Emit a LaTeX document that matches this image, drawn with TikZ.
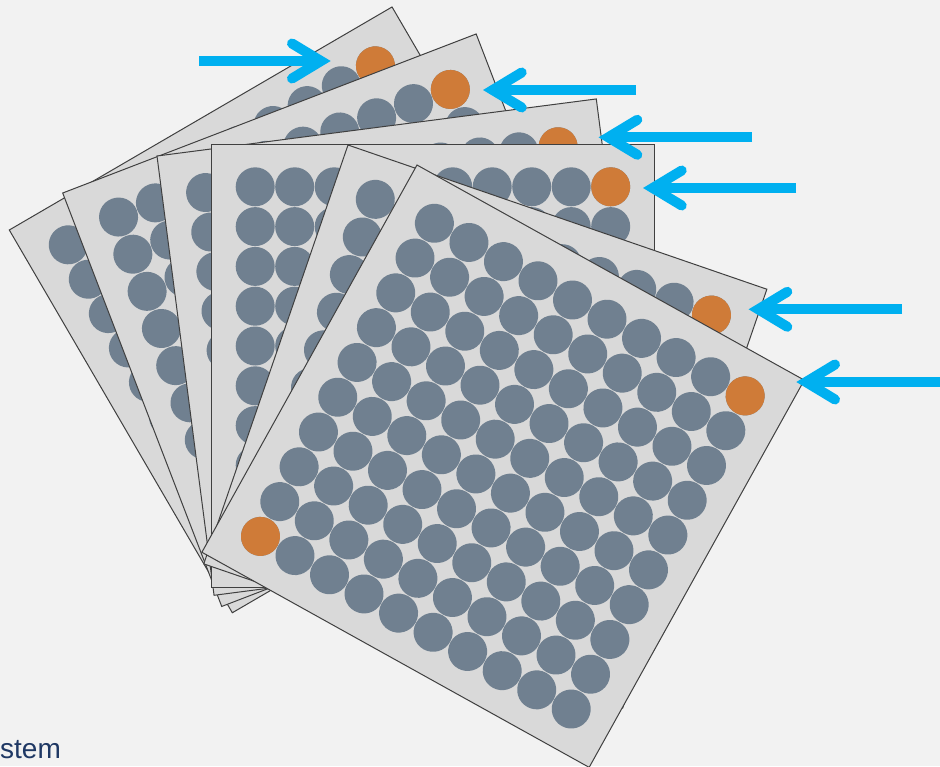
\documentclass[tikz,border=0pt]{standalone}
\usepackage{fontspec}
\setmainfont{Liberation Sans}
\usetikzlibrary{calc}
\definecolor{bgc}{HTML}{F2F2F2}
\definecolor{platefill}{HTML}{D9D9D9}
\definecolor{plateedge}{HTML}{404040}
\definecolor{wellc}{HTML}{708090}
\definecolor{hitc}{HTML}{CF7B38}
\definecolor{arrowc}{HTML}{00B0F0}
\definecolor{textc}{HTML}{1F3864}
\newcommand\drawplate[4]{%
  \begin{scope}[shift={(#1,#2)}, rotate=#3]
    \draw[plate] (0,0) rectangle (443,443);
    \foreach \i in {0,...,9}{\foreach \j in {0,...,9}{%
      \fill[well] (43.5+39.5*\i, 42.5+39.8*\j) circle[radius=19.5pt];}}
    \fill[hit] (399,42.5) circle[radius=19.5pt];
    #4
  \end{scope}}
\begin{document}
\begin{tikzpicture}[x=1pt,y=-1pt,
  plate/.style={fill=platefill, draw=plateedge, line width=1pt, line join=miter},
  well/.style={fill=wellc},
  hit/.style={fill=hitc},
  shaft/.style={draw=arrowc, line width=10pt, line cap=butt},
  barb/.style={draw=arrowc, line width=10pt, line cap=round, line join=miter},
  label/.style={text=textc, font=\fontsize{28}{33}\selectfont, inner sep=0pt}]
  \useasboundingbox (0,0) rectangle (940,766);
  \fill[bgc] (0,0) rectangle (940,766);
  \clip (0,0) rectangle (940,766);
  % plates, back to front
  \drawplate{9.3}{230}{30.23}{}
  \drawplate{62.7}{193}{21.04}{}
  \drawplate{157}{156}{7.40}{}
  \drawplate{211.7}{144.3}{0}{}
  \drawplate{348}{145}{-19}{}
  \drawplate{417}{165}{-29.05}{\fill[hit] (43.5,400.7) circle[radius=19.5pt];}
  % arrow coordinates (vertex of the barb, and tail of the shaft)
  \coordinate (v1) at (321,61);    \coordinate (t1) at (199,61);
  \coordinate (v2) at (492.7,90);  \coordinate (t2) at (636,90);
  \coordinate (v3) at (608.3,137.3); \coordinate (t3) at (752,137.3);
  \coordinate (v4) at (652.7,188); \coordinate (t4) at (796,188);
  \coordinate (v5) at (758.3,309.3); \coordinate (t5) at (902,309.3);
  \coordinate (v6) at (806,382);   \coordinate (t6) at (950,382);
  % right-pointing arrow
  \draw[shaft] (t1) -- (v1);
  \draw[barb] ($(v1)+(-29,-17.5)$) -- (v1) -- ($(v1)+(-29,17.5)$);
  % left-pointing arrows
  \foreach \k in {2,...,6}{%
    \draw[shaft] (t\k) -- (v\k);
    \draw[barb] ($(v\k)+(29,-17.5)$) -- (v\k) -- ($(v\k)+(29,17.5)$);}
  \node[label, anchor=base west] (caption) at (0,758) {stem};
\end{tikzpicture}
\end{document}
